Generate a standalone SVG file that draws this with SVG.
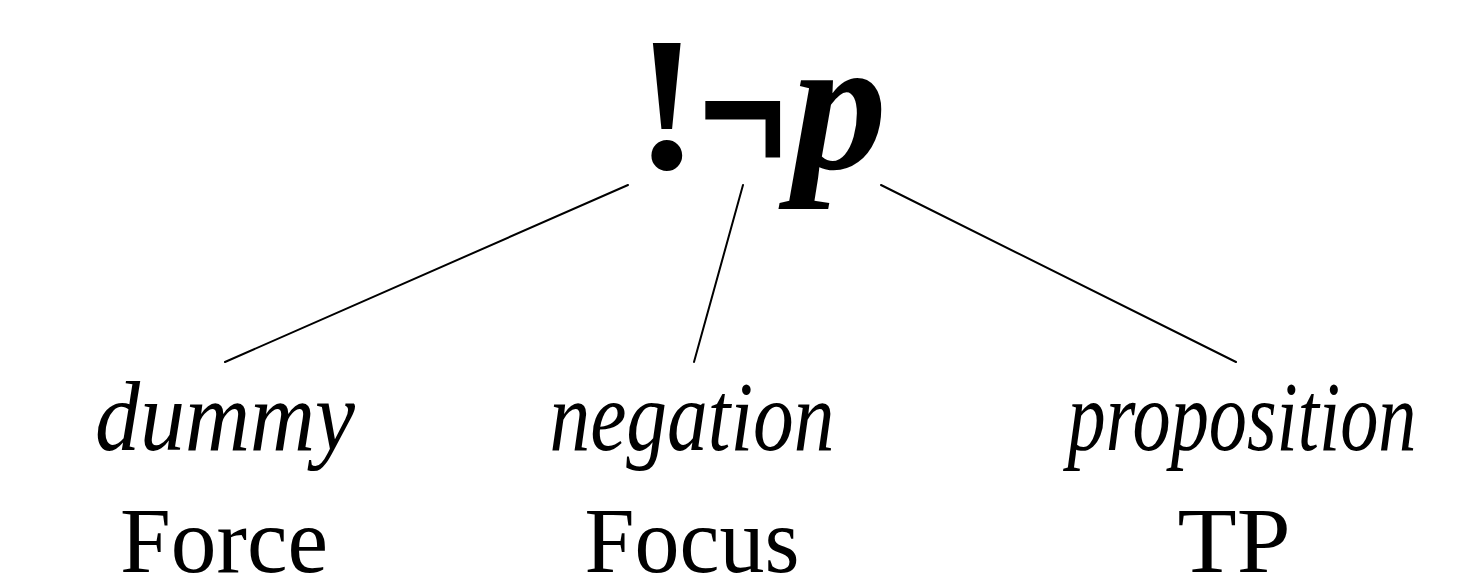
<svg xmlns="http://www.w3.org/2000/svg" width="1476" height="583" viewBox="0 0 1476 583">
<style>
.top{font-family:"Liberation Serif",serif;font-size:190px;fill:#000;font-weight:bold}
.it{font-family:"Liberation Serif",serif;font-style:italic;font-size:100px;fill:#000}
.up{font-family:"Liberation Serif",serif;font-size:94px;fill:#000}
.edge{stroke:#000;stroke-width:2;stroke-linecap:round;fill:none}
</style>
<rect width="1476" height="583" fill="#fff"/>
<g id="root">
<text class="top" x="667" y="168" text-anchor="middle">!</text>
<text class="top" transform="translate(743,174) scale(0.8,1)" text-anchor="middle" stroke="#000" stroke-width="5" stroke-linejoin="miter">¬</text>
<text class="top" x="792" y="168" font-style="italic" font-size="195">p</text>
</g>
<g id="connectors">
<line class="edge" x1="628" y1="185" x2="225" y2="362"/>
<line class="edge" x1="743" y1="185" x2="694" y2="362"/>
<line class="edge" x1="881" y1="185" x2="1236" y2="362"/>
</g>
<g id="force">
<text class="it" x="225" y="450" text-anchor="middle" textLength="260" lengthAdjust="spacingAndGlyphs">dummy</text>
<text class="up" x="224" y="572" text-anchor="middle" textLength="208" lengthAdjust="spacingAndGlyphs">Force</text>
</g>
<g id="focus">
<text class="it" x="692" y="450" text-anchor="middle" textLength="285" lengthAdjust="spacingAndGlyphs">negation</text>
<text class="up" x="692" y="572" text-anchor="middle" textLength="215" lengthAdjust="spacingAndGlyphs">Focus</text>
</g>
<g id="tp">
<text class="it" x="1242" y="450" text-anchor="middle" textLength="349" lengthAdjust="spacingAndGlyphs">proposition</text>
<text class="up" x="1234" y="572" text-anchor="middle" textLength="113" lengthAdjust="spacingAndGlyphs">TP</text>
</g>
</svg>
